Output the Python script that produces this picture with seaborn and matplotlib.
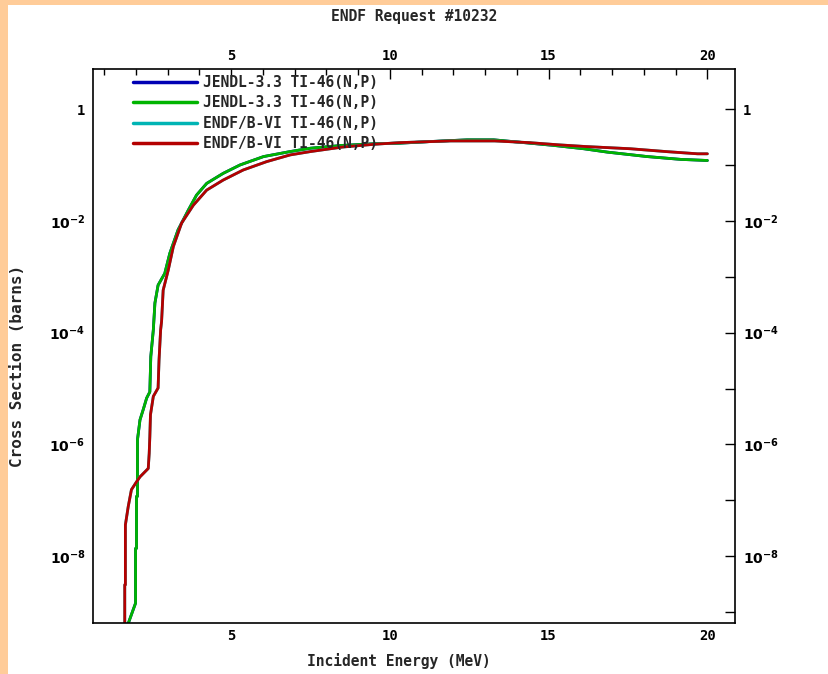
import numpy as np
import pandas as pd
import matplotlib
matplotlib.use("Agg")
import matplotlib.pyplot as plt
import matplotlib.ticker as mticker
from matplotlib.patches import Rectangle
import seaborn as sns

sns.set_theme(style='white')
plt.rcParams['font.family'] = ['DejaVu Sans Mono', 'DejaVu Sans']
plt.rcParams['font.weight'] = 'bold'
plt.rcParams['mathtext.fontset'] = 'dejavusans'
plt.rcParams['mathtext.default'] = 'bf'

title = 'ENDF Request #10232'
x_label = 'Incident Energy (MeV)'
y_label = 'Cross Section (barns)'
labels = ['JENDL-3.3 TI-46(N,P)', 'JENDL-3.3 TI-46(N,P)',
          'ENDF/B-VI TI-46(N,P)', 'ENDF/B-VI TI-46(N,P)']
colors = ['#0000b4', '#00b400', '#00b4b4', '#b40000']
y_decades = list(range(-9, 1))

# JENDL-3.3 (energy in MeV, log10 of cross section in barns)
jendl_e = [1.73, 1.99, 1.99, 2.02, 2.02, 2.05, 2.05, 2.13, 2.23, 2.34, 2.44, 2.47,
           2.55, 2.60, 2.70, 2.91, 3.07, 3.33, 3.65, 3.91, 4.23, 4.75, 5.28, 6.02,
           6.86, 7.5, 8.5, 9.5, 10.33, 11.3, 12.43, 13.27, 14.22, 15.16, 16.11,
           16.85, 18.11, 19.16, 20.0]
jendl_log = [-9.25, -8.84, -7.86, -7.86, -6.93, -6.93, -5.92, -5.56, -5.38, -5.17,
             -5.06, -4.43, -3.95, -3.47, -3.15, -2.94, -2.58, -2.16, -1.81, -1.54,
             -1.33, -1.15, -1.00, -0.85, -0.76, -0.70, -0.65, -0.62, -0.61, -0.58,
             -0.55, -0.55, -0.60, -0.65, -0.71, -0.77, -0.85, -0.90, -0.92]

# ENDF/B-VI
endf_e = [1.65, 1.65, 1.67, 1.67, 1.76, 1.86, 2.02, 2.13, 2.39, 2.42, 2.44, 2.46,
          2.55, 2.70, 2.73, 2.78, 2.81, 2.86, 3.02, 3.18, 3.44, 3.81, 4.23, 4.75,
          5.38, 6.12, 6.86, 7.5, 8.5, 9.5, 10.33, 11.9, 13.3, 14.38, 15.32, 16.16,
          17.58, 18.69, 19.69, 20.0]
endf_log = [-9.25, -8.51, -8.51, -7.44, -7.11, -6.81, -6.67, -6.58, -6.43, -6.16,
            -5.86, -5.47, -5.14, -4.99, -4.49, -3.95, -3.80, -3.24, -2.88, -2.46,
            -2.04, -1.72, -1.45, -1.27, -1.09, -0.94, -0.82, -0.76, -0.68, -0.63,
            -0.60, -0.57, -0.57, -0.60, -0.64, -0.67, -0.71, -0.76, -0.80, -0.80]

series = [(jendl_e, jendl_log), (jendl_e, jendl_log), (endf_e, endf_log), (endf_e, endf_log)]

fig = plt.figure(figsize=(8.29, 6.74), dpi=100)
fig.patch.set_facecolor('#ffcc99')
fig.patches.append(Rectangle((8 / 829, 0), 821 / 829, 669 / 674, transform=fig.transFigure,
                             facecolor='white', edgecolor='none', zorder=-5))
ax = fig.add_axes([93 / 829, 1 - 623.3 / 674, 642 / 829, 554.3 / 674])
ax.set_zorder(2)

for (e, lg), lab, col in zip(series, labels, colors):
    df = pd.DataFrame({'E': e, 'xs': np.power(10.0, lg)})
    sns.lineplot(data=df, x='E', y='xs', ax=ax, sort=False, estimator=None,
                 color=col, linewidth=2.0, label=lab)

ax.set_yscale('log')
ax.set_xlim(0.65, 20.87)
ax.set_ylim(10 ** -9.2, 10 ** 0.717)

ax.xaxis.set_major_locator(mticker.MultipleLocator(5))
ax.xaxis.set_minor_locator(mticker.MultipleLocator(1))
ax.yaxis.set_major_locator(mticker.FixedLocator([10.0 ** p for p in y_decades]))
ax.yaxis.set_minor_locator(mticker.NullLocator())


def ylab(v, pos):
    p = int(round(np.log10(v)))
    if p % 2:
        return ''
    if p == 0:
        return '1'
    return r'$\mathbf{10^{%d}}$' % p


ax.yaxis.set_major_formatter(mticker.FuncFormatter(ylab))
ax.tick_params(axis='both', which='both', direction='in', colors='black',
               top=True, right=True, labeltop=True, labelright=True, labelsize=10)
ax.tick_params(axis='x', which='major', length=7, width=1, pad=4)
ax.tick_params(axis='x', which='minor', length=4, width=1)
ax.tick_params(axis='y', which='major', length=7, width=1, pad=5.5)
for s in ax.spines.values():
    s.set_color('black')
    s.set_linewidth(1.2)
ax.set_xlabel('')
ax.set_ylabel('')

leg = ax.legend(loc='upper left', bbox_to_anchor=(0.051, 1.003), frameon=False,
                borderpad=0, handlelength=4.4, handletextpad=0.41, labelspacing=0.38,
                prop={'family': 'DejaVu Sans Mono', 'weight': 'bold', 'size': 10.5})
for h in leg.get_lines():
    h.set_linewidth(2.5)

fig.text(414 / 829, 1 - 16 / 674, title, ha='center', va='center', fontsize=10.5, fontweight='bold')
fig.text(399 / 829, 1 - 661 / 674, x_label, ha='center', va='center', fontsize=10.5, fontweight='bold')
fig.text(18 / 829, 1 - 366 / 674, y_label, ha='center', va='center', rotation=90,
         fontsize=11.5, fontweight='bold')

fig.savefig('out.png', dpi=100, facecolor=fig.get_facecolor())
